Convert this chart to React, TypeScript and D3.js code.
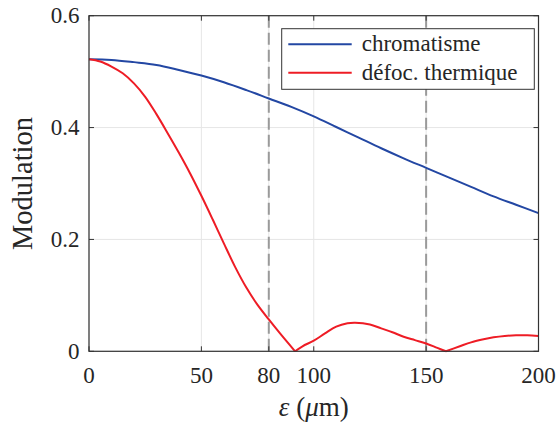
import React from "react";
import * as d3 from "d3";

const xTicks = [0, 50, 80, 100, 150, 200];
const xTickLabels = ["0", "50", "80", "100", "150", "200"];
const yTicks = [0, 0.2, 0.4, 0.6];
const yTickLabels = ["0", "0.2", "0.4", "0.6"];
const dashedX = [80, 150];

const chromX = [0, 10, 20, 30, 40, 50, 60, 70, 80, 90, 100, 110, 120, 130, 140, 150, 160, 170, 180, 190, 200];
const chromY = [0.522, 0.521, 0.517, 0.512, 0.503, 0.493, 0.481, 0.467, 0.452, 0.437, 0.42, 0.401, 0.382, 0.363, 0.345, 0.328, 0.311, 0.294, 0.277, 0.262, 0.247];

const thermX = [0, 5, 10, 15, 20, 25, 30, 35, 40, 45, 50, 55, 60, 65, 70, 75, 80, 85, 91.7, 95, 100, 105, 110, 115, 118.4, 125, 130, 135, 140, 145, 150, 155, 158.8, 165, 170, 175, 180, 185, 190, 195, 200];
const thermY = [0.522, 0.518, 0.509, 0.497, 0.479, 0.455, 0.424, 0.39, 0.355, 0.318, 0.278, 0.236, 0.193, 0.151, 0.114, 0.083, 0.057, 0.032, 0, 0.009, 0.019, 0.032, 0.044, 0.05, 0.051, 0.048, 0.041, 0.034, 0.026, 0.02, 0.014, 0.006, 0, 0.009, 0.016, 0.021, 0.025, 0.0275, 0.0287, 0.0285, 0.0274];

const seriesNames = ["chromatisme", "défoc. thermique"];
const seriesColors = ["#2347a3", "#ee1c25"];

const W = 556, H = 425;
const FONT = "'Liberation Serif', 'DejaVu Serif', 'Times New Roman', Times, serif";
const AXIS = "#333333";

export default function App() {
  const x = d3.scaleLinear().domain([0, 200]).range([89, 538.5]);
  const y = d3.scaleLinear().domain([0, 0.6]).range([351.3, 15.7]);
  const [x0, x1] = x.range();
  const [y0, y1] = y.range();

  const line = d3.line<[number, number]>()
    .x((d) => x(d[0]))
    .y((d) => y(d[1]))
    .curve(d3.curveCatmullRom.alpha(0.5));

  const chrom = chromX.map((v, i) => [v, chromY[i]] as [number, number]);
  const therm = thermX.map((v, i) => [v, thermY[i]] as [number, number]);

  // split the thermal curve at its zeros so the cusps stay sharp
  const thermSegs: [number, number][][] = [];
  let cur: [number, number][] = [];
  therm.forEach((p, i) => {
    cur.push(p);
    if (p[1] === 0 && i > 0 && i < therm.length - 1) {
      thermSegs.push(cur);
      cur = [p];
    }
  });
  thermSegs.push(cur);

  const tickLen = 5;
  const txt = { fontFamily: FONT, fill: "#262626" } as React.CSSProperties;

  return (
    <svg width={W} height={H} style={{ position: "absolute", left: 0, top: 0, background: "#fff" }}>
      <rect x={0} y={0} width={W} height={H} fill="#fff" />
      {xTicks.map((t) => (
        <line key={"gx" + t} x1={x(t)} x2={x(t)} y1={y1} y2={y0} stroke="#e6e6e6" strokeWidth={1} />
      ))}
      {yTicks.map((t) => (
        <line key={"gy" + t} x1={x0} x2={x1} y1={y(t)} y2={y(t)} stroke="#e6e6e6" strokeWidth={1} />
      ))}
      {dashedX.map((t) => (
        <line key={"d" + t} x1={x(t)} x2={x(t)} y1={y1} y2={y0} stroke="#9a9a9a" strokeWidth={2} strokeDasharray="12,5" />
      ))}
      <path d={line(chrom) || ""} fill="none" stroke={seriesColors[0]} strokeWidth={2} />
      {thermSegs.map((s, i) => (
        <path key={"t" + i} d={line(s) || ""} fill="none" stroke={seriesColors[1]} strokeWidth={2} strokeLinejoin="round" />
      ))}
      <rect x={x0} y={y1} width={x1 - x0} height={y0 - y1} fill="none" stroke={AXIS} strokeWidth={1.2} />
      {xTicks.map((t) => (
        <g key={"tx" + t}>
          <line x1={x(t)} x2={x(t)} y1={y0} y2={y0 - tickLen} stroke={AXIS} strokeWidth={1} />
          <line x1={x(t)} x2={x(t)} y1={y1} y2={y1 + tickLen} stroke={AXIS} strokeWidth={1} />
        </g>
      ))}
      {yTicks.map((t) => (
        <g key={"ty" + t}>
          <line x1={x0} x2={x0 + tickLen} y1={y(t)} y2={y(t)} stroke={AXIS} strokeWidth={1} />
          <line x1={x1} x2={x1 - tickLen} y1={y(t)} y2={y(t)} stroke={AXIS} strokeWidth={1} />
        </g>
      ))}
      {xTicks.map((t, i) => (
        <text key={"lx" + t} x={x(t)} y={382.5} textAnchor="middle" style={{ ...txt, fontSize: 23 }}>
          {xTickLabels[i]}
        </text>
      ))}
      {yTicks.map((t, i) => (
        <text key={"ly" + t} x={79.5} y={y(t) + 7.6} textAnchor="end" style={{ ...txt, fontSize: 23 }}>
          {yTickLabels[i]}
        </text>
      ))}
      <text x={(x0 + x1) / 2} y={416} textAnchor="middle" style={{ ...txt, fontSize: 27 }}>
        <tspan style={{ fontStyle: "italic" }}>ε</tspan> (<tspan style={{ fontStyle: "italic" }}>μ</tspan>m)
      </text>
      <text transform={`translate(32,${(y0 + y1) / 2}) rotate(-90)`} textAnchor="middle" style={{ ...txt, fontSize: 28.5 }}>
        Modulation
      </text>
      <rect x={281.7} y={28.7} width={252.6} height={60.6} fill="#fff" stroke={AXIS} strokeWidth={1} />
      {seriesNames.map((n, i) => {
        const ly = 44.3 + i * 28.4;
        return (
          <g key={"leg" + i}>
            <line x1={288.3} x2={351.7} y1={ly} y2={ly} stroke={seriesColors[i]} strokeWidth={2} />
            <text x={361.7} y={ly + 7} style={{ ...txt, fontSize: 23 }}>
              {n}
            </text>
          </g>
        );
      })}
    </svg>
  );
}
